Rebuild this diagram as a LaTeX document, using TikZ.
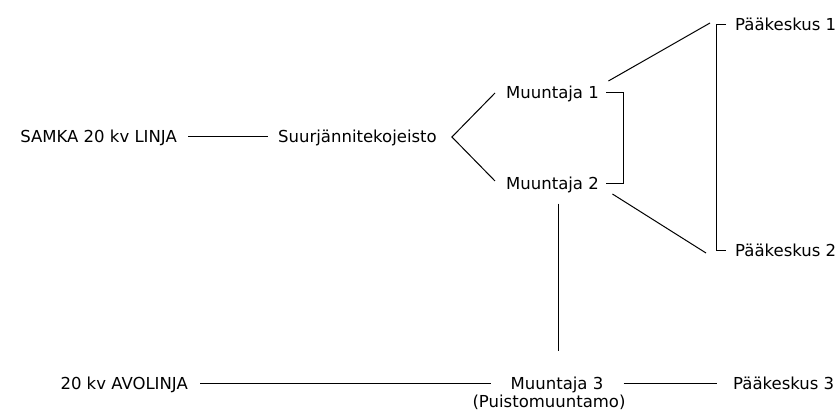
\documentclass[tikz,border=0pt]{standalone}
\usepackage{fontspec}
\setmainfont{DejaVu Sans}
\usetikzlibrary{calc}
\begin{document}
\begin{tikzpicture}[x=1pt,y=-1pt,
  lbl/.style={inner sep=0pt, text height=12pt, text depth=0pt,
              font=\fontsize{16.5}{19}\selectfont, text=black},
  wire/.style={draw=black, line width=1pt}]
\useasboundingbox[fill=white] (0,0) rectangle (839,419);

% labels
\node[lbl, anchor=east] (samka) at (177,137) {SAMKA 20 kv LINJA};
\node[lbl, anchor=west] (suur) at (278,137) {Suurjännitekojeisto};
\node[lbl, anchor=west] (m1) at (506,92.5) {Muuntaja 1};
\node[lbl, anchor=west] (m2) at (506,183.5) {Muuntaja 2};
\node[lbl, anchor=west] (p1) at (735,24.5) {Pääkeskus 1};
\node[lbl, anchor=west] (p2) at (735,250.5) {Pääkeskus 2};
\node[lbl, anchor=east] (avo) at (188,383.5) {20 kv AVOLINJA};
\node[lbl] (m3) at (557,383.5) {Muuntaja 3};
\node[lbl] (puisto) at (549,402) {(Puistomuuntamo)};
\node[lbl, anchor=west] (p3) at (733,383.5) {Pääkeskus 3};

% feed line to the switchgear
\draw[wire] ([xshift=11pt]samka.east) -- ([xshift=-10pt]suur.west);

% switchgear branches to the two transformers
\coordinate (fork) at ($(suur.east)+(15,0)$);
\draw[wire] ($(m1.west)+(-11,0.5)$) -- (fork) -- ($(m2.west)+(-11,-2.5)$);

% tie between transformers 1 and 2
\draw[wire] ([xshift=7pt]m1.east) -- ([xshift=24pt]m1.east)
  -- ([xshift=24pt]m2.east) -- ([xshift=7pt]m2.east);

% transformers to main distribution boards
\draw[wire] ($(m1.east)+(9.4,-11.5)$) -- ($(p1.west)+(-25,-1.5)$);
\draw[wire] ($(m2.east)+(13.4,10.5)$) -- ($(p2.west)+(-29,2.5)$);

% bracket between main boards 1 and 2
\draw[wire] ([xshift=-9pt]p1.west) -- ([xshift=-19pt]p1.west)
  -- ([xshift=-19pt]p2.west) -- ([xshift=-9pt]p2.west);

% transformer 2 down to transformer 3
\draw[wire] ($(m3.north |- m2.south)+(1,14)$) -- ($(m3.north)+(1,-26)$);

% overhead line and main board 3
\draw[wire] ([xshift=12pt]avo.east) -- ([xshift=-19pt]m3.west);
\draw[wire] ([xshift=20pt]m3.east) -- ([xshift=-16pt]p3.west);
\end{tikzpicture}
\end{document}
